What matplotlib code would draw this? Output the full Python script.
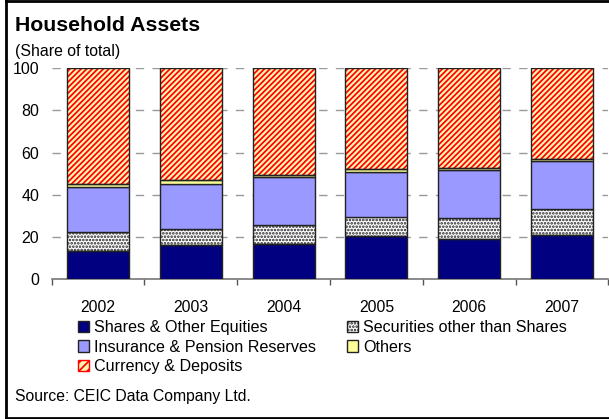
import matplotlib
matplotlib.use("Agg")
import matplotlib.pyplot as plt
from matplotlib.patches import Patch
from matplotlib.lines import Line2D
import numpy as np

plt.rcParams['font.family'] = ['Liberation Sans', 'DejaVu Sans']
plt.rcParams['hatch.linewidth'] = 1.25

years = ["2002", "2003", "2004", "2005", "2006", "2007"]
shares = [13.6, 16.1, 16.6, 20.4, 19.0, 20.9]
securities = [8.7, 7.6, 9.1, 9.0, 9.9, 12.6]
insurance = [21.3, 21.6, 22.9, 21.6, 22.8, 22.7]
others = [1.7, 1.6, 0.7, 1.1, 0.9, 0.7]
currency = [100 - a - b - c - d for a, b, c, d in zip(shares, securities, insurance, others)]

labels = ["Shares & Other Equities", "Securities other than Shares",
          "Insurance & Pension Reserves", "Others", "Currency & Deposits"]

W, H = 609, 419
fig = plt.figure(figsize=(W / 100, H / 100), dpi=100)
ax = fig.add_axes([51.7 / W, 1 - 279.3 / H, (608.3 - 51.7) / W, (279.3 - 68.3) / H])

x = np.arange(len(years))
bw = 0.67
edge = '#222222'
stripe = '/' * 6
dots = '.....'

series = [
    (shares, dict(facecolor='#000080', edgecolor=edge)),
    (securities, dict(facecolor='white', edgecolor='#222222', hatch=dots)),
    (insurance, dict(facecolor='#9999FF', edgecolor=edge)),
    (others, dict(facecolor='#FFFF99', edgecolor=edge)),
    (currency, dict(facecolor='#FFF4B0', edgecolor='#FF0000', hatch=stripe)),
]

bottom = np.zeros(len(years))
for vals, st in series:
    vals = np.array(vals)
    if 'hatch' in st:
        ax.bar(x, vals, bw, bottom=bottom, facecolor=st['facecolor'],
               edgecolor=st['edgecolor'], hatch=st['hatch'], linewidth=0, zorder=2)
        ax.bar(x, vals, bw, bottom=bottom, facecolor='none',
               edgecolor=edge, linewidth=1.0, zorder=3)
    else:
        ax.bar(x, vals, bw, bottom=bottom, facecolor=st['facecolor'],
               edgecolor=st['edgecolor'], linewidth=1.0, zorder=3)
    bottom = bottom + vals

ax.set_xlim(-0.5, len(years) - 0.5)
ax.set_ylim(0, 100)
ax.set_yticks([0, 20, 40, 60, 80, 100])
ax.tick_params(axis='y', length=0, labelsize=11.5, pad=9)
for yv in [20, 40, 60, 80, 100]:
    ax.axhline(yv, color='#999999', linewidth=1.0, linestyle=(0, (6, 6)), zorder=1)

ax.set_xticks(x)
ax.set_xticklabels(years, fontsize=11.3)
ax.tick_params(axis='x', length=0, pad=15)
ax.set_xticks(np.arange(-0.5, len(years)), minor=True)
ax.tick_params(axis='x', which='minor', length=4, direction='out', color='#555555', width=1)

for s in ['top', 'right', 'left']:
    ax.spines[s].set_visible(False)
ax.spines['bottom'].set_color('#777777')
ax.spines['bottom'].set_linewidth(1.2)

fig.text(15 / W, 1 - 25.7 / H, "Household Assets", fontsize=15.3, fontweight='bold', va='center', ha='left')
fig.text(15 / W, 1 - 51.7 / H, "(Share of total)", fontsize=11.4, va='center', ha='left')
fig.text(15 / W, 1 - 396.7 / H, "Source: CEIC Data Company Ltd.", fontsize=11.3, va='center', ha='left')

handles = [
    Patch(facecolor='#000080', edgecolor=edge, label=labels[0]),
    Patch(facecolor='#9999FF', edgecolor=edge, label=labels[2]),
    Patch(facecolor='#FFF4B0', edgecolor='#FF0000', hatch='////', label=labels[4]),
    Patch(facecolor='white', edgecolor='#222222', hatch=dots, label=labels[1]),
    Patch(facecolor='#FFFF99', edgecolor=edge, label=labels[3]),
]
leg = fig.legend(handles=handles, ncol=2, loc='upper left',
                 bbox_to_anchor=(78 / W, 1 - 320 / H), frameon=False,
                 fontsize=11.6, handlelength=0.7, handleheight=0.7,
                 handletextpad=0.3, labelspacing=0.28, columnspacing=1.9,
                 borderpad=0, borderaxespad=0)

tr = fig.transFigure
fig.add_artist(Line2D([6 / W, 6 / W], [1 - 417.7 / H, 1], transform=tr, color='black', linewidth=2.0))
fig.add_artist(Line2D([6 / W, 1], [1 - 1 / H, 1 - 1 / H], transform=tr, color='black', linewidth=2.0))
fig.add_artist(Line2D([6 / W, 1], [1 - 417.7 / H, 1 - 417.7 / H], transform=tr, color='black', linewidth=2.0))

fig.savefig("out.png", dpi=100)
